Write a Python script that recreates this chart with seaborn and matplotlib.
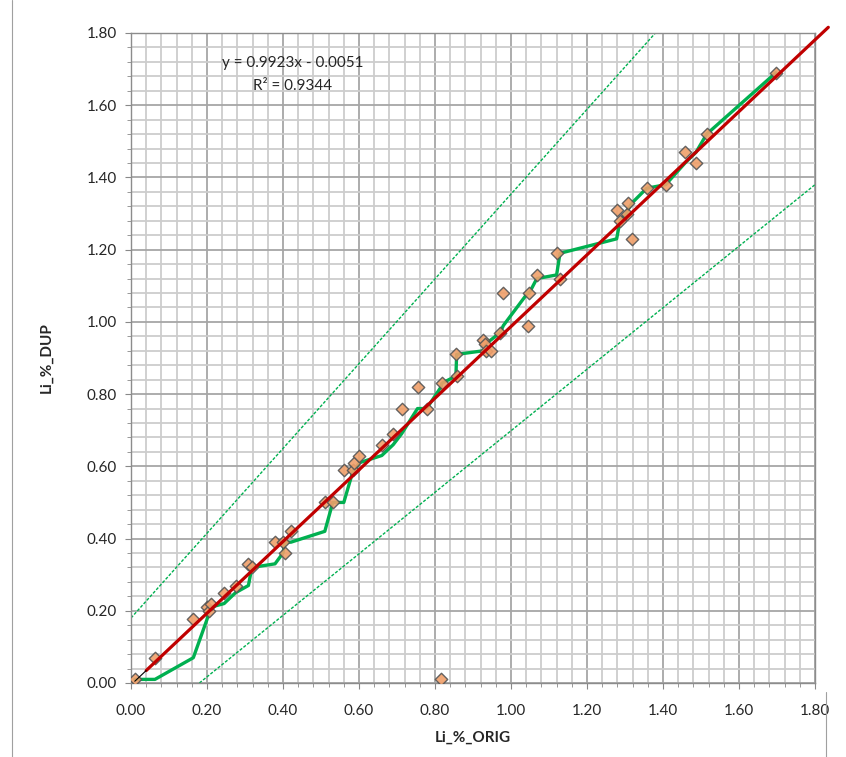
import numpy as np
import pandas as pd
import matplotlib
matplotlib.use("Agg")
import matplotlib.pyplot as plt
from matplotlib.lines import Line2D
from matplotlib.ticker import MultipleLocator, FormatStrFormatter
import seaborn as sns

# ---- data ----
li_orig = [0.01, 0.063, 0.164, 0.20, 0.206, 0.21, 0.245, 0.275, 0.309, 0.318,
           0.379, 0.40, 0.405, 0.421, 0.51, 0.531, 0.56, 0.585, 0.588, 0.601,
           0.66, 0.69, 0.712, 0.754, 0.778, 0.816, 0.818, 0.857, 0.855, 0.927,
           0.932, 0.934, 0.947, 0.971, 0.98, 1.044, 1.048, 1.068, 1.12, 1.129,
           1.278, 1.287, 1.304, 1.307, 1.319, 1.357, 1.407, 1.458, 1.487, 1.515,
           1.697]
li_dup = [0.01, 0.07, 0.176, 0.21, 0.20, 0.22, 0.25, 0.27, 0.33, 0.32,
          0.39, 0.39, 0.36, 0.42, 0.50, 0.50, 0.59, 0.59, 0.61, 0.63,
          0.66, 0.69, 0.76, 0.82, 0.76, 0.01, 0.83, 0.85, 0.91, 0.95,
          0.94, 0.92, 0.92, 0.97, 1.08, 0.99, 1.08, 1.13, 1.19, 1.12,
          1.31, 1.28, 1.30, 1.33, 1.23, 1.37, 1.38, 1.47, 1.44, 1.52,
          1.69]

# trendline (from chart label)
slope = 0.9923
intercept = -0.0051
r2 = 0.9344
trend_x = [0.04, 1.835]
trend_stub_x = [0.01, 0.04]

# tolerance envelope lines
upper_x = [0.0, 1.38]
upper_y = [0.18, 1.80]
lower_x = [0.18, 1.80]
lower_y = [0.0, 1.38]

x_ticks = [0.0, 0.2, 0.4, 0.6, 0.8, 1.0, 1.2, 1.4, 1.6, 1.8]
y_ticks = [0.0, 0.2, 0.4, 0.6, 0.8, 1.0, 1.2, 1.4, 1.6, 1.8]

df = pd.DataFrame({"Li_%_ORIG": li_orig, "Li_%_DUP": li_dup})
qq = pd.DataFrame({"x": np.sort(df["Li_%_ORIG"].values),
                   "y": np.sort(df["Li_%_DUP"].values)})

sns.set_style("white")
plt.rcParams["font.family"] = ["Lato", "DejaVu Sans"]

fig = plt.figure(figsize=(8.46, 7.57), dpi=100)
ax = fig.add_axes([131 / 846, 1 - 683 / 757, (815 - 131) / 846, (683 - 33) / 757])

# grid
ax.xaxis.set_minor_locator(MultipleLocator(0.04))
ax.yaxis.set_minor_locator(MultipleLocator(0.04))
ax.set_xticks(x_ticks)
ax.set_yticks(y_ticks)
ax.grid(which="minor", color="#cdcdcd", linewidth=1.3, zorder=0)
ax.grid(which="major", color="#a6a6a6", linewidth=1.3, zorder=0)
ax.set_axisbelow(True)

# envelope lines
ax.plot(upper_x, upper_y, color="#00B050", lw=1.0, ls=(0, (2.2, 1.2)), zorder=2)
ax.plot(lower_x, lower_y, color="#00B050", lw=1.0, ls=(0, (2.2, 1.2)), zorder=2)

# Q-Q line
sns.lineplot(data=qq, x="x", y="y", sort=False, estimator=None, ax=ax,
             color="#00B050", lw=2.4, zorder=3)

# scatter
sns.scatterplot(data=df, x="Li_%_ORIG", y="Li_%_DUP", ax=ax, marker="D",
                s=40, color="#F0A06A", edgecolor="#555555", linewidth=1.0,
                alpha=0.9, zorder=4)

# trend line
tx = np.array(trend_x)
ax.plot(tx, slope * tx + intercept, color="#C00000", lw=2.3, zorder=5, clip_on=False)
sx = np.array(trend_stub_x)
ax.plot(sx, slope * sx + intercept, color="black", lw=0.8, zorder=5)

ax.text(0.426, 1.717, f"y = {slope}x - {abs(intercept):.4f}", ha="center", va="center",
        fontsize=11, zorder=6)
ax.text(0.426, 1.654, f"R² = {r2}", ha="center", va="center", fontsize=11, zorder=6)

ax.set_xlim(0, 1.8)
ax.set_ylim(0, 1.8)
ax.xaxis.set_major_formatter(FormatStrFormatter("%.2f"))
ax.yaxis.set_major_formatter(FormatStrFormatter("%.2f"))
ax.tick_params(axis="both", which="major", labelsize=11, length=4, color="#888888",
               direction="out", bottom=True, left=True)
ax.tick_params(axis="x", which="major", pad=11)
ax.tick_params(axis="y", which="major", pad=6)
ax.tick_params(axis="both", which="minor", length=3, color="#888888", bottom=True, left=True)
for s in ax.spines.values():
    s.set_color("#8c8c8c")
    s.set_linewidth(1.0)

ax.set_xlabel("Li_%_ORIG", fontsize=11, fontweight="bold", labelpad=9)
ax.set_ylabel("Li_%_DUP", fontsize=11, fontweight="bold", labelpad=24)

# chart frame pieces
fig.add_artist(Line2D([12 / 846, 12 / 846], [0, 1], color="#a0a0a0", lw=0.8))
fig.add_artist(Line2D([826 / 846, 826 / 846], [0, 1 - 692 / 757], color="#a0a0a0", lw=0.8))

fig.savefig("out.png", dpi=100)
